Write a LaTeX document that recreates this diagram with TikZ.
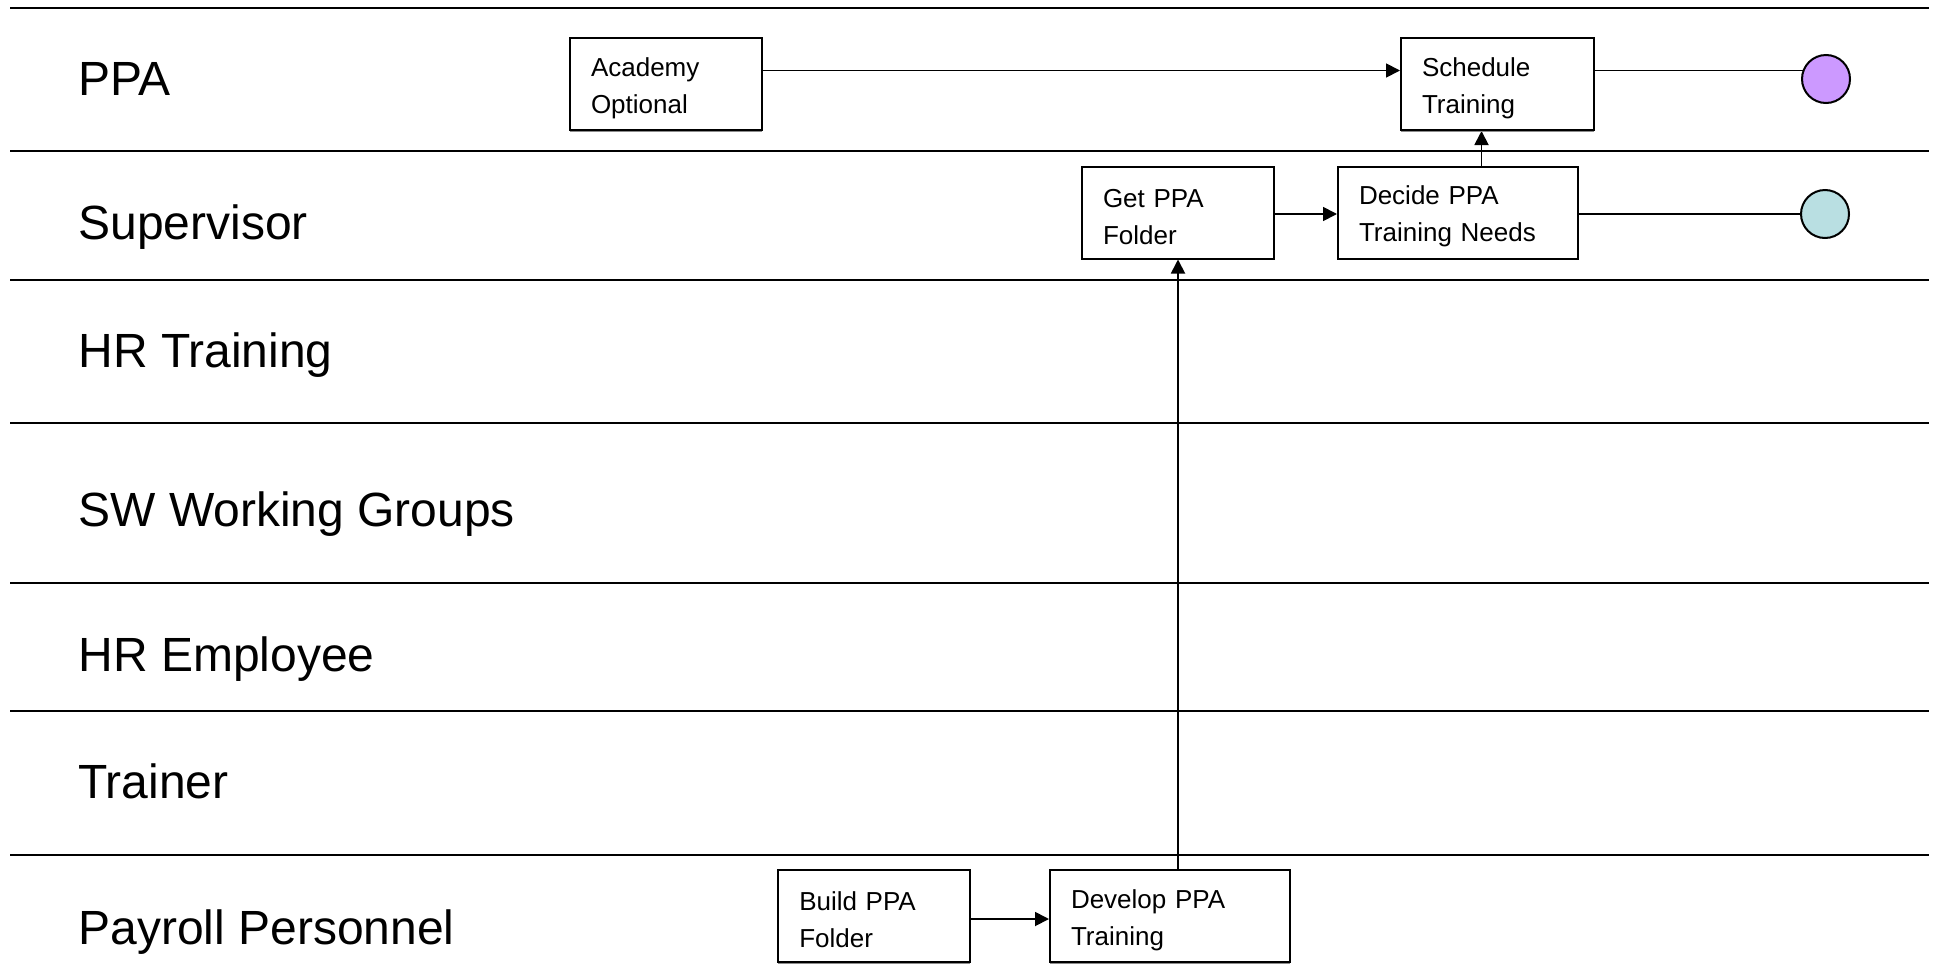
\documentclass[tikz,border=0pt]{standalone}
\usepackage{fontspec}
\setmainfont{Liberation Sans}
\usetikzlibrary{arrows.meta,backgrounds,shadows}
\definecolor{endpurple}{RGB}{204,153,255}
\definecolor{endteal}{RGB}{185,223,226}
\begin{document}
\begin{tikzpicture}[x=0.5pt,y=-0.5pt,
  lane/.style={line width=1pt},
  lanelabel/.style={anchor=base west, inner sep=0pt, font=\fontsize{24}{28}\selectfont},
  task/.style={draw, line width=1pt, rectangle, minimum height=46pt,
    inner xsep=10.5pt, inner ysep=0pt, align=left, fill=white,
    drop shadow={shadow xshift=0pt, shadow yshift=-0.9pt, fill=black!45, opacity=1},
    font=\fontsize{13}{18.5}\selectfont,
    execute at begin node={\rule{0pt}{13.5pt}}},
  flow/.style={line width=0.9pt, -{Triangle[length=7pt,width=7pt]}},
  plainflow/.style={line width=0.9pt},
  endpoint/.style={circle, draw, line width=1pt, minimum size=24pt, inner sep=0pt}]
\useasboundingbox (0,0) rectangle (1939,980);

% swimlane separators
\foreach \y in {7.5,151,279.5,423,582.5,711,854.5}
  \draw[lane] (10,\y) -- (1929,\y);

% lane titles
\node[lanelabel] (lppa)  at (78,95.5)  {PPA};
\node[lanelabel] (lsup)  at (78,239.5) {Supervisor};
\node[lanelabel] (lhrt)  at (78,367.5) {HR Training};
\node[lanelabel] (lsw)   at (78,526.5) {SW Working Groups};
\node[lanelabel] (lhre)  at (78,671.5) {HR Employee};
\node[lanelabel] (ltr)   at (78,798.5) {Trainer};
\node[lanelabel] (lpay)  at (78,944.5) {Payroll Personnel};

% activities
\node[task, text width=75pt]    (acad)    at (666,84)     {Academy\\Optional};
\node[task, text width=75.5pt]  (sched)   at (1497.5,84)  {Schedule\\Training};
\node[task, text width=75pt]    (getf)    at (1178,212.5) {Get PPA\\Folder};
\node[task, text width=99pt]    (decide)  at (1458,212.5) {Decide PPA\\Training Needs};
\node[task, text width=74.75pt] (build)   at (874,916)    {Build PPA\\Folder};
\node[task, text width=99pt]    (develop) at (1170,916)   {Develop PPA\\Training};

% end states
\node[endpoint, fill=endpurple] (endppa) at (1826,79)  {};
\node[endpoint, fill=endteal]   (endsup) at (1825,214) {};

% flows
\begin{scope}[on background layer]
  \draw[flow] ([yshift=6.75pt]acad.east) -- ([yshift=6.75pt]acad.east -| sched.west);
  \draw[plainflow] ([yshift=6.75pt]sched.east) -- ([yshift=6.75pt]sched.east -| endppa.center);
  \draw[flow] ([yshift=-0.75pt]getf.east) -- ([yshift=-0.75pt]getf.east -| decide.west);
  \draw[plainflow] ([yshift=-0.75pt]decide.east) -- ([yshift=-0.75pt]decide.east -| endsup.center);
  \draw[flow] ([xshift=11.75pt]decide.north) -- ([xshift=11.75pt]decide.north |- sched.south);
  \draw[flow] ([yshift=-1.5pt]build.east) -- ([yshift=-1.5pt]build.east -| develop.west);
  \draw[flow] (getf.south |- develop.north) -- (getf.south);
\end{scope}
\end{tikzpicture}
\end{document}
